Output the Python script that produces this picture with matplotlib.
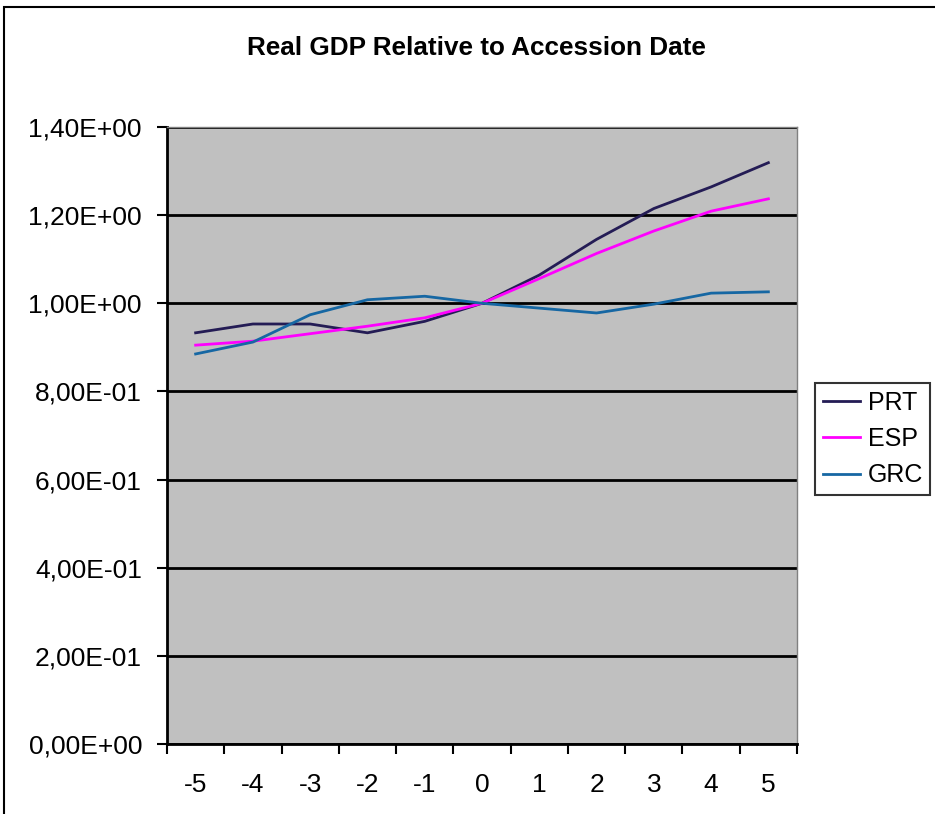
import matplotlib
matplotlib.use("Agg")
import matplotlib.pyplot as plt
from matplotlib.patches import Rectangle
from matplotlib.ticker import FixedLocator, FuncFormatter

plt.rcParams['font.family'] = ['Liberation Sans', 'DejaVu Sans']

# years relative to accession
years = [-5, -4, -3, -2, -1, 0, 1, 2, 3, 4, 5]
prt = [0.933, 0.953, 0.953, 0.933, 0.959, 1.000, 1.064, 1.145, 1.215, 1.264, 1.319]
esp = [0.905, 0.914, 0.931, 0.948, 0.967, 1.000, 1.056, 1.113, 1.164, 1.209, 1.237]
grc = [0.885, 0.912, 0.974, 1.008, 1.016, 1.000, 0.989, 0.978, 0.998, 1.023, 1.026]

fig = plt.figure(figsize=(9.35, 8.14), dpi=100)
ax = fig.add_axes([167/935, 70/814, 630/935, 617/814])
ax.set_facecolor('#C0C0C0')

x = list(range(len(years)))
ax.plot(x, prt, color='#241C55', lw=2, label='PRT')
ax.plot(x, esp, color='#FF00FF', lw=2, label='ESP')
ax.plot(x, grc, color='#1667A3', lw=2, label='GRC')

ax.set_xlim(-0.5, len(years) - 0.5)
ax.set_ylim(0, 1.4)

# category axis: ticks between categories, labels in the middle
ax.xaxis.set_major_locator(FixedLocator([i - 0.5 for i in range(len(years) + 1)]))
ax.xaxis.set_minor_locator(FixedLocator(x))
ax.set_xticklabels([])
ax.set_xticklabels([str(y) for y in years], minor=True)
ax.tick_params(axis='x', which='major', length=7, width=1.5, direction='out')
ax.tick_params(axis='x', which='minor', length=0, pad=21, labelsize=19)

ax.set_yticks([0.2 * i for i in range(8)])
ax.yaxis.set_major_formatter(FuncFormatter(lambda v, p: ('%.2E' % v).replace('.', ',')))
ax.tick_params(axis='y', length=7, width=1.5, direction='out', labelsize=19, pad=11)

ax.grid(axis='y', color='black', lw=2)
ax.set_axisbelow(True)
for s in ['left', 'bottom']:
    ax.spines[s].set_linewidth(2)
for s in ['top', 'right']:
    ax.spines[s].set_color('#808080')
    ax.spines[s].set_linewidth(1)

fig.text(476/935, 1 - 48/814, 'Real GDP Relative to Accession Date',
         ha='center', va='center', fontsize=18.8, fontweight='bold')

leg = fig.legend(loc='upper left', bbox_to_anchor=(815/935, 1 - 383/814),
                 fontsize=18, frameon=True, fancybox=False, edgecolor='black',
                 handlelength=1.5, handletextpad=0.3, borderpad=0.3,
                 labelspacing=0.5, borderaxespad=0)
leg.get_frame().set_linewidth(1.5)

# outer chart border
fig.patches.append(Rectangle((4/935, -0.1), 1.2, 1.1 - 7/814, transform=fig.transFigure,
                             fill=False, edgecolor='black', lw=1.5))

fig.savefig('out.png', dpi=100)
